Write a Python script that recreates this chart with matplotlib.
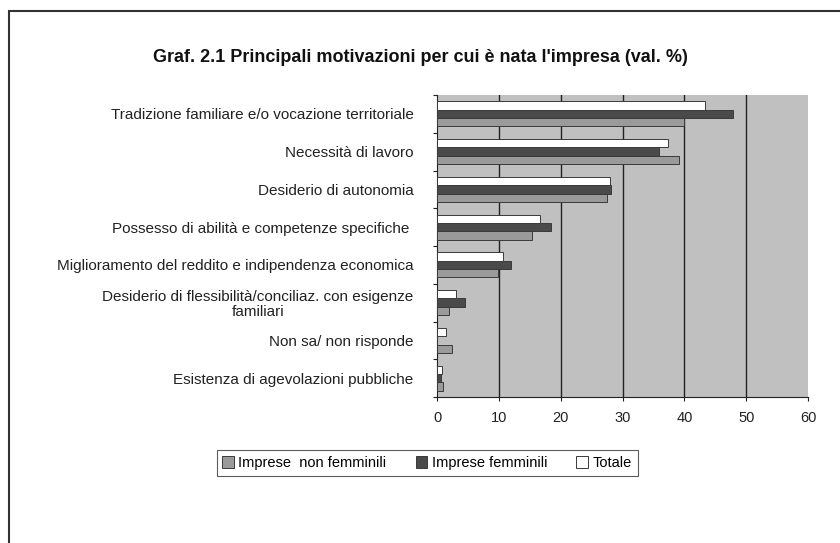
import matplotlib
matplotlib.use("Agg")
import matplotlib.pyplot as plt
import numpy as np
from matplotlib.patches import Rectangle

plt.rcParams['font.family'] = ['Liberation Sans', 'DejaVu Sans']

title = "Graf. 2.1 Principali motivazioni per cui è nata l'impresa (val. %)"
categories = [
    "Tradizione familiare e/o vocazione territoriale",
    "Necessità di lavoro",
    "Desiderio di autonomia",
    "Possesso di abilità e competenze specifiche ",
    "Miglioramento del reddito e indipendenza economica",
    "Desiderio di flessibilità/conciliaz. con esigenze\nfamiliari",
    "Non sa/ non risponde",
    "Esistenza di agevolazioni pubbliche",
]
series_names = ["Imprese  non femminili", "Imprese femminili", "Totale"]
non_femminili = [40.0, 39.1, 27.5, 15.4, 9.8, 2.0, 2.5, 0.9]
femminili = [47.9, 35.9, 28.1, 18.5, 12.0, 4.6, 0.0, 0.6]
totale = [43.4, 37.3, 27.9, 16.6, 10.6, 3.1, 1.5, 0.8]
x_ticks = [0, 10, 20, 30, 40, 50, 60]

colors = ["#9a9a9a", "#4a4a4a", "#ffffff"]

fig = plt.figure(figsize=(8.4, 5.43), dpi=100)
W, H = 840, 543

# outer frame (cropped on right/bottom)
fig.patches.append(Rectangle((9 / W, -0.1), 1.2, 1 - 11 / H + 0.1,
                             transform=fig.transFigure, fill=False,
                             edgecolor="#333333", linewidth=1.5))

ax = fig.add_axes([437 / W, 1 - 397 / H, (808 - 437) / W, (397 - 95) / H])
ax.set_facecolor("#c0c0c0")

y = np.arange(len(categories))
h = 0.22
data = [non_femminili, femminili, totale]
offsets = [h, 0, -h]
for vals, c, off, name in zip(data, colors, offsets, series_names):
    ax.barh(y + off, vals, height=h, color=c, edgecolor="#3a3a3a",
            linewidth=0.7, label=name, zorder=3)

ax.set_xlim(0, 60)
ax.set_ylim(len(categories) - 0.5, -0.5)
ax.set_xticks(x_ticks)
ax.set_xticklabels([str(t) for t in x_ticks], fontsize=10.5, color="#222222")
for t in x_ticks[1:-1]:
    ax.axvline(t, color="#222222", linewidth=1.0, zorder=2)

ax.set_yticks(np.arange(len(categories) + 1) - 0.5, minor=False)
ax.set_yticklabels([])
ax.set_yticks(y, minor=True)
ax.set_yticklabels(categories, minor=True, fontsize=11, color="#222222",
                   multialignment="center", linespacing=1.1)
ax.tick_params(axis="y", which="minor", length=0, pad=17)
ax.tick_params(axis="y", which="major", length=3, direction="out", color="#222222")
ax.tick_params(axis="x", length=3, direction="out", color="#222222", pad=7)

for s in ["top", "right"]:
    ax.spines[s].set_visible(False)
ax.spines["left"].set_color("#222222")
ax.spines["bottom"].set_color("#222222")

fig.text(420 / W, 1 - 58 / H, title, ha="center", va="center",
         fontsize=13, fontweight="bold", color="#111111")

leg = fig.legend(loc="center", bbox_to_anchor=(427 / W, 1 - 463 / H),
                 ncol=3, fontsize=10.5, frameon=True, fancybox=False,
                 edgecolor="#333333", handlelength=0.8, handleheight=0.8,
                 handletextpad=0.3, columnspacing=2.0, borderpad=0.4)
leg.get_frame().set_linewidth(0.8)

fig.savefig("out.png", dpi=100, facecolor="white")
